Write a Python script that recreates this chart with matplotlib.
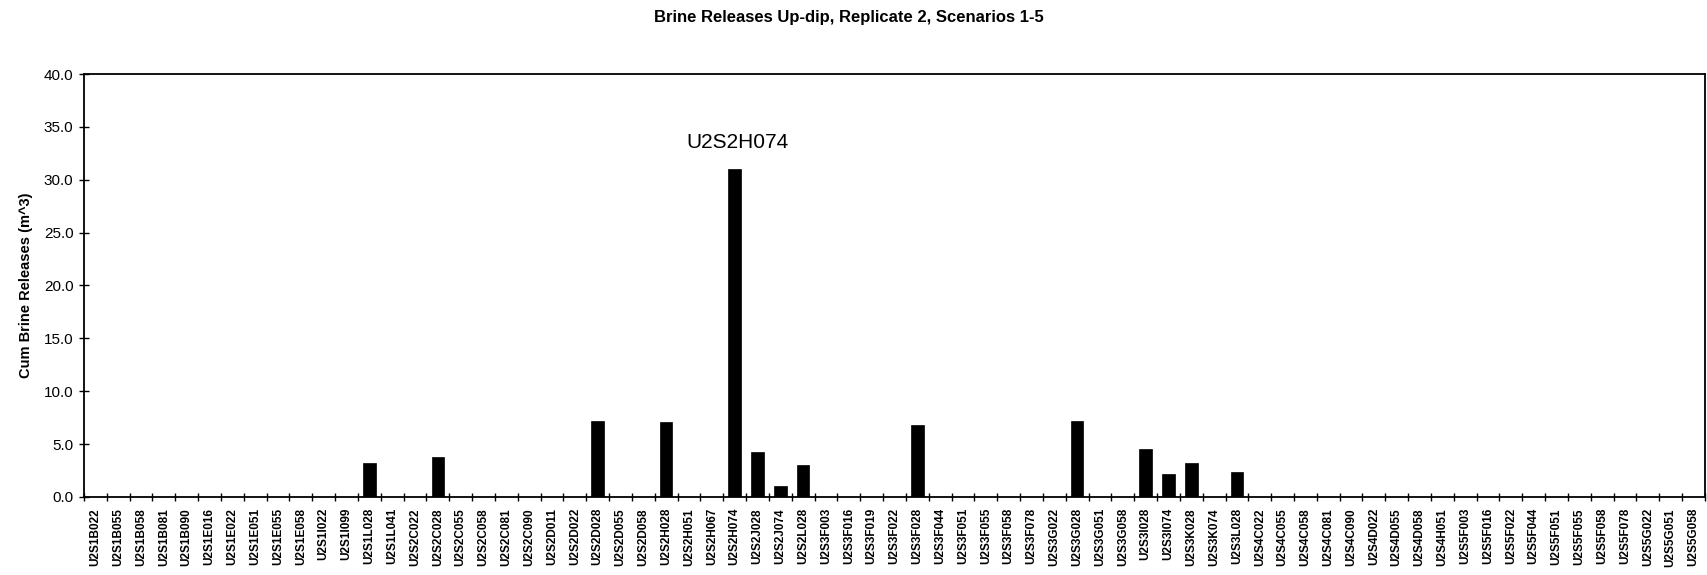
import matplotlib
matplotlib.use("Agg")
import matplotlib.pyplot as plt
import numpy as np

plt.rcParams.update({
    "font.family": ["Liberation Sans", "DejaVu Sans"],
    "font.size": 10,
})

# vectors, in plotting order
vectors = [
    "U2S1B022", "U2S1B055", "U2S1B058", "U2S1B081", "U2S1B090", "U2S1E016",
    "U2S1E022", "U2S1E051", "U2S1E055", "U2S1E058", "U2S1I022", "U2S1I099",
    "U2S1L028", "U2S1L041", "U2S2C022", "U2S2C028", "U2S2C055", "U2S2C058",
    "U2S2C081", "U2S2C090", "U2S2D011", "U2S2D022", "U2S2D028", "U2S2D055",
    "U2S2D058", "U2S2H028", "U2S2H051", "U2S2H067", "U2S2H074", "U2S2J028",
    "U2S2J074", "U2S2L028", "U2S3F003", "U2S3F016", "U2S3F019", "U2S3F022",
    "U2S3F028", "U2S3F044", "U2S3F051", "U2S3F055", "U2S3F058", "U2S3F078",
    "U2S3G022", "U2S3G028", "U2S3G051", "U2S3G058", "U2S3I028", "U2S3I074",
    "U2S3K028", "U2S3K074", "U2S3L028", "U2S4C022", "U2S4C055", "U2S4C058",
    "U2S4C081", "U2S4C090", "U2S4D022", "U2S4D055", "U2S4D058", "U2S4H051",
    "U2S5F003", "U2S5F016", "U2S5F022", "U2S5F044", "U2S5F051", "U2S5F055",
    "U2S5F058", "U2S5F078", "U2S5G022", "U2S5G051", "U2S5G058",
]

# non-zero cumulative brine releases (m^3); every other vector is 0
nonzero = {
    "U2S1L028": 3.2, "U2S2C028": 3.75, "U2S2D028": 7.2, "U2S2H028": 7.1,
    "U2S2H074": 31.0, "U2S2J028": 4.3, "U2S2J074": 1.0, "U2S2L028": 3.0,
    "U2S3F028": 6.85, "U2S3G028": 7.15, "U2S3I028": 4.5, "U2S3I074": 2.2,
    "U2S3K028": 3.25, "U2S3L028": 2.35,
}
releases = [nonzero.get(v, 0.0) for v in vectors]

peak = "U2S2H074"

fig = plt.figure(figsize=(17.07, 5.75), dpi=100, facecolor="white")
ax = fig.add_axes([0.0492, 0.1357, 0.9496, 0.7356])

x = np.arange(len(vectors))
ax.bar(x, releases, width=0.55, color="black", edgecolor="black", linewidth=0.5)

ax.set_xlim(-0.5, len(vectors) - 0.5)
ax.set_ylim(0, 40)
ax.set_yticks(np.arange(0, 40.1, 5))
ax.set_yticklabels([f"{v:.1f}" for v in np.arange(0, 40.1, 5)], fontsize=11)
ax.set_xticks(x)
ax.set_xticklabels(vectors, rotation=90, fontsize=8.5, fontweight="bold")
ax.set_xticks(np.arange(-0.5, len(vectors), 1), minor=True)
ax.tick_params(axis="x", which="major", length=0, pad=8)
ax.tick_params(axis="x", which="minor", length=6, direction="inout", width=1)
ax.tick_params(axis="y", length=7, direction="inout", width=1, pad=4)

for s in ax.spines.values():
    s.set_linewidth(1.3)
    s.set_color("black")

ax.set_ylabel("Cum Brine Releases (m^3)", fontsize=10.5, fontweight="bold", labelpad=8)

i = vectors.index(peak)
ax.annotate(peak, xy=(i, releases[i]), xytext=(2, 19), textcoords="offset points",
            ha="center", va="center", fontsize=15)

fig.text(0.497, 0.97, "Brine Releases Up-dip, Replicate 2, Scenarios 1-5",
         ha="center", va="center", fontsize=12, fontweight="bold")

fig.savefig("out.png", dpi=100, facecolor="white")
